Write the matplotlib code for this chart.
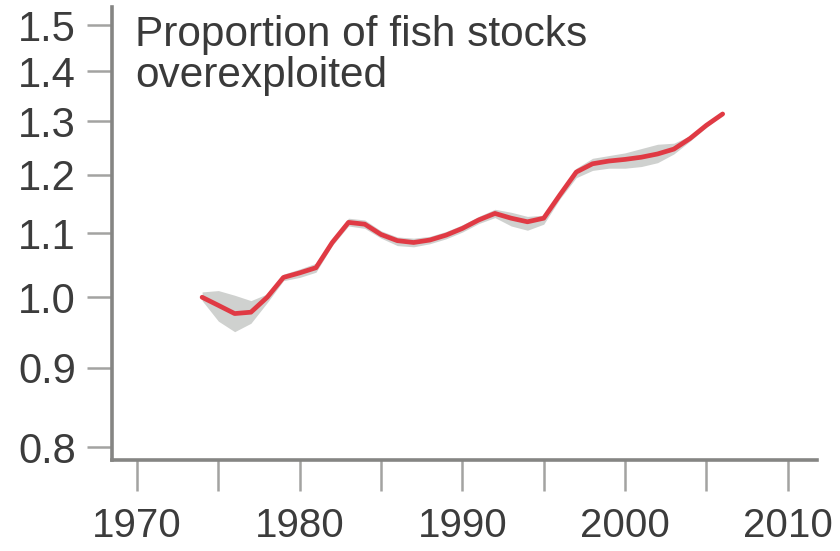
import numpy as np
import matplotlib.pyplot as plt
from matplotlib.ticker import FixedLocator, FormatStrFormatter, NullLocator

# Index of overexploited fish stocks (1974 = 1.0)
years = list(range(1974, 2007))
index = [1.000, 0.988, 0.976, 0.978, 1.000, 1.030, 1.037, 1.045, 1.085, 1.118,
         1.115, 1.098, 1.088, 1.085, 1.089, 1.097, 1.108, 1.122, 1.133, 1.125,
         1.119, 1.125, 1.165, 1.205, 1.220, 1.225, 1.228, 1.232, 1.238, 1.247,
         1.267, 1.292, 1.314]
band_lo = [0.995, 0.965, 0.950, 0.962, 0.992, 1.025, 1.030, 1.038, 1.080, 1.112,
           1.108, 1.092, 1.080, 1.078, 1.083, 1.091, 1.102, 1.116, 1.126, 1.112,
           1.105, 1.115, 1.158, 1.195, 1.208, 1.212, 1.212, 1.215, 1.222, 1.238,
           1.262, 1.288, 1.312]
band_hi = [1.008, 1.010, 1.003, 0.995, 1.005, 1.035, 1.043, 1.052, 1.090, 1.125,
           1.122, 1.104, 1.094, 1.092, 1.095, 1.103, 1.114, 1.128, 1.140, 1.135,
           1.128, 1.130, 1.172, 1.212, 1.230, 1.235, 1.240, 1.248, 1.256, 1.258,
           1.272, 1.296, 1.316]

yticks = [0.8, 0.9, 1.0, 1.1, 1.2, 1.3, 1.4, 1.5]
xticks = list(range(1970, 2011, 5))
xlabels = ["1970", "", "1980", "", "1990", "", "2000", "", "2010"]
title = "Proportion of fish stocks\noverexploited"

plt.rcParams['font.family'] = ['Liberation Sans', 'DejaVu Sans']

fig = plt.figure(figsize=(8.4, 5.51), dpi=100)
ax = fig.add_axes([112 / 840, 1 - 460 / 551, (817 - 112) / 840, (460 - 7) / 551])

ax.fill_between(years, band_lo, band_hi, color='#cfd1cf', lw=0)
ax.plot(years, index, color='#e03a44', lw=3.4, solid_capstyle='round')

ax.set_yscale('log')
ax.set_xlim(1968.46, 2011.8)
ax.set_ylim(0.7847, 1.541)

ax.yaxis.set_major_locator(FixedLocator(yticks))
ax.yaxis.set_major_formatter(FormatStrFormatter('%.1f'))
ax.yaxis.set_minor_locator(NullLocator())
ax.set_xticks(xticks)
ax.set_xticklabels(xlabels)

for side in ['top', 'right']:
    ax.spines[side].set_visible(False)
for side in ['left', 'bottom']:
    ax.spines[side].set_color('#858583')
    ax.spines[side].set_linewidth(2.6)

ax.tick_params(axis='y', direction='out', length=18, width=1.8, color='#a3a3a1',
               pad=8, labelsize=30, labelcolor='#3c3c3c')
ax.tick_params(axis='x', direction='out', length=22, width=1.8, color='#a3a3a1',
               pad=12, labelsize=29, labelcolor='#3c3c3c')

fig.text(135 / 840, 1 - 15 / 551, title, ha='left', va='top', fontsize=30.5,
         color='#3a3a3a', linespacing=1.02)

fig.savefig('out.png', dpi=100)
